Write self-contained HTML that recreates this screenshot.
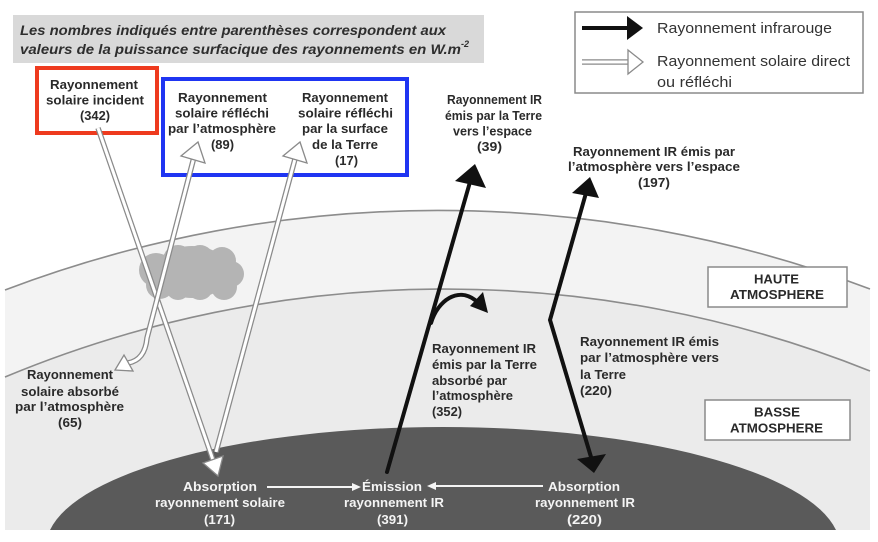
<!DOCTYPE html>
<html>
<head>
<meta charset="utf-8">
<style>
  html,body{margin:0;padding:0;background:#fff;width:878px;height:542px;overflow:hidden;}
  svg{display:block;position:absolute;left:0;top:0;}
  .lb{font-family:"Liberation Sans",Arial,sans-serif;font-weight:bold;font-size:13px;fill:#2a2a2a;}
  .wt{font-family:"Liberation Sans",Arial,sans-serif;font-weight:bold;font-size:13px;fill:#f4f4f4;}
  .bn{font-family:"Liberation Sans",Arial,sans-serif;font-weight:bold;font-style:italic;font-size:14px;fill:#2e2e2e;}
  .lg{font-family:"Liberation Sans",Arial,sans-serif;font-size:15px;fill:#333;}
</style>
</head>
<body>
<svg width="878" height="542" viewBox="0 0 878 542" xmlns="http://www.w3.org/2000/svg">
  <rect x="0" y="0" width="878" height="542" fill="#ffffff"/>

  <!-- atmosphere -->
  <path d="M5,290 A1222,1222 0 0 1 870,289 L870,530 L5,530 Z" fill="#f3f3f3"/>
  <path d="M5,377 A1144,1144 0 0 1 870,371 L870,530 L5,530 Z" fill="#ebebeb"/>
  <path d="M5,290 A1222,1222 0 0 1 870,289" fill="none" stroke="#8c8c8c" stroke-width="1.6"/>
  <path d="M5,377 A1144,1144 0 0 1 870,371" fill="none" stroke="#8c8c8c" stroke-width="1.6"/>

  <!-- earth -->
  <path d="M50,530 A397,120 0 0 1 836,530 Z" fill="#5a5a5a"/>

  <!-- cloud -->
  <g fill="#b4b4b4">
    <ellipse cx="192" cy="273" rx="46" ry="22"/>
    <ellipse cx="192" cy="272" rx="38" ry="26"/>
    <circle cx="156" cy="270" r="17"/>
    <circle cx="160" cy="285" r="14"/>
    <circle cx="178" cy="260" r="15"/>
    <circle cx="200" cy="259" r="14"/>
    <circle cx="222" cy="261" r="14"/>
    <circle cx="231" cy="274" r="13"/>
    <circle cx="224" cy="287" r="13"/>
    <circle cx="200" cy="287" r="13"/>
    <circle cx="178" cy="288" r="12"/>
  </g>

  <!-- banner -->
  <rect x="13" y="15" width="471" height="48" fill="#d9d9d9"/>
  <text class="bn" x="20" y="35" textLength="426" lengthAdjust="spacingAndGlyphs">Les nombres indiqués entre parenthèses correspondent aux</text>
  <text class="bn" x="20" y="54" textLength="441" lengthAdjust="spacingAndGlyphs">valeurs de la puissance surfacique des rayonnements en W.m</text>
  <text class="bn" x="461" y="47" style="font-size:9px">-2</text>

  <!-- legend -->
  <rect x="575" y="12" width="288" height="81" fill="#ffffff" stroke="#8a8a8a" stroke-width="1.5"/>
  <line x1="582" y1="28" x2="629" y2="28" stroke="#111" stroke-width="4"/>
  <polygon points="627,16 643,28 627,40" fill="#111"/>
  <line x1="582" y1="62" x2="629" y2="62" stroke="#8a8a8a" stroke-width="5.5"/>
  <line x1="582" y1="62" x2="629" y2="62" stroke="#ffffff" stroke-width="3"/>
  <polygon points="628,50 643,62 628,74" fill="#ffffff" stroke="#8a8a8a" stroke-width="1.3"/>
  <text class="lg" x="657" y="33" textLength="175" lengthAdjust="spacingAndGlyphs">Rayonnement infrarouge</text>
  <text class="lg" x="657" y="66" textLength="193" lengthAdjust="spacingAndGlyphs">Rayonnement solaire direct</text>
  <text class="lg" x="657" y="87" textLength="75" lengthAdjust="spacingAndGlyphs">ou réfléchi</text>

  <!-- red box -->
  <rect x="37" y="68" width="120" height="65" fill="#ffffff" stroke="#ee3a1e" stroke-width="4"/>
  <text class="lb" x="50" y="89" textLength="88" lengthAdjust="spacingAndGlyphs">Rayonnement</text>
  <text class="lb" x="46" y="104.5" textLength="98" lengthAdjust="spacingAndGlyphs">solaire incident</text>
  <text class="lb" x="80" y="120" textLength="30" lengthAdjust="spacingAndGlyphs">(342)</text>

  <!-- blue box -->
  <rect x="163" y="79" width="244" height="96" fill="#ffffff" stroke="#1f35f2" stroke-width="4"/>
  <text class="lb" x="178" y="102" textLength="89" lengthAdjust="spacingAndGlyphs">Rayonnement</text>
  <text class="lb" x="175" y="117.5" textLength="94" lengthAdjust="spacingAndGlyphs">solaire réfléchi</text>
  <text class="lb" x="168" y="133" textLength="108" lengthAdjust="spacingAndGlyphs">par l’atmosphère</text>
  <text class="lb" x="211" y="149" textLength="23" lengthAdjust="spacingAndGlyphs">(89)</text>
  <text class="lb" x="302" y="102" textLength="86" lengthAdjust="spacingAndGlyphs">Rayonnement</text>
  <text class="lb" x="298" y="117.5" textLength="95" lengthAdjust="spacingAndGlyphs">solaire réfléchi</text>
  <text class="lb" x="302" y="133" textLength="86" lengthAdjust="spacingAndGlyphs">par la surface</text>
  <text class="lb" x="312" y="149" textLength="66" lengthAdjust="spacingAndGlyphs">de la Terre</text>
  <text class="lb" x="335" y="165" textLength="23" lengthAdjust="spacingAndGlyphs">(17)</text>

  <!-- hollow solar arrows -->
  <g fill="none" stroke-linecap="butt" stroke-linejoin="round">
    <line x1="98" y1="128" x2="213" y2="460" stroke="#8a8a8a" stroke-width="5.5"/>
    <line x1="98" y1="128" x2="213" y2="460" stroke="#ffffff" stroke-width="3"/>
    <line x1="216" y1="452" x2="295" y2="159" stroke="#8a8a8a" stroke-width="5.5"/>
    <line x1="216" y1="452" x2="295" y2="159" stroke="#ffffff" stroke-width="3"/>
    <path d="M193.5,159 L147,338 Q145,360 128,363" stroke="#8a8a8a" stroke-width="5.5"/>
    <path d="M193.5,159 L147,338 Q145,360 128,363" stroke="#ffffff" stroke-width="3"/>
  </g>
  <polygon points="218,476 203,463 223,456" fill="#ffffff" stroke="#8a8a8a" stroke-width="1.3"/>
  <polygon points="300,142 307,163 283,156" fill="#ffffff" stroke="#8a8a8a" stroke-width="1.3"/>
  <polygon points="198,142 205,163 181,156" fill="#ffffff" stroke="#8a8a8a" stroke-width="1.3"/>
  <polygon points="115,370 124,355 133,371" fill="#ffffff" stroke="#8a8a8a" stroke-width="1.3"/>

  <!-- black IR arrows -->
  <g stroke="#111" stroke-width="4" fill="none" stroke-linecap="round" stroke-linejoin="miter">
    <line x1="387" y1="472" x2="470" y2="182"/>
    <path d="M431,323 C438,300 458,287 475,300"/>
    <polyline points="586,193 550,320 591,457"/>
  </g>
  <polygon points="475,164 455,181 486,188" fill="#111"/>
  <polygon points="488,313 470,306 483,292" fill="#111"/>
  <polygon points="590,177 572,193 599,198" fill="#111"/>
  <polygon points="594,473 577,459 606,454" fill="#111"/>

  <!-- white arrows in earth -->
  <line x1="267" y1="487" x2="354" y2="487" stroke="#f4f4f4" stroke-width="2"/>
  <polygon points="352,483 361,487 352,491" fill="#f4f4f4"/>
  <line x1="435" y1="486" x2="543" y2="486" stroke="#f4f4f4" stroke-width="2"/>
  <polygon points="436,482 427,486 436,490" fill="#f4f4f4"/>

  <!-- IR labels -->
  <text class="lb" x="447" y="104" textLength="95" lengthAdjust="spacingAndGlyphs">Rayonnement IR</text>
  <text class="lb" x="445" y="120" textLength="97" lengthAdjust="spacingAndGlyphs">émis par la Terre</text>
  <text class="lb" x="453" y="135.5" textLength="79" lengthAdjust="spacingAndGlyphs">vers l’espace</text>
  <text class="lb" x="477" y="151" textLength="25" lengthAdjust="spacingAndGlyphs">(39)</text>

  <text class="lb" x="573" y="156" textLength="162" lengthAdjust="spacingAndGlyphs">Rayonnement IR émis par</text>
  <text class="lb" x="568" y="171" textLength="172" lengthAdjust="spacingAndGlyphs">l’atmosphère vers l’espace</text>
  <text class="lb" x="638" y="187" textLength="32" lengthAdjust="spacingAndGlyphs">(197)</text>

  <text class="lb" x="580" y="346" textLength="139" lengthAdjust="spacingAndGlyphs">Rayonnement IR émis</text>
  <text class="lb" x="580" y="362" textLength="139" lengthAdjust="spacingAndGlyphs">par l’atmosphère vers</text>
  <text class="lb" x="580" y="379" textLength="46" lengthAdjust="spacingAndGlyphs">la Terre</text>
  <text class="lb" x="580" y="395" textLength="32" lengthAdjust="spacingAndGlyphs">(220)</text>

  <text class="lb" x="432" y="353" textLength="104" lengthAdjust="spacingAndGlyphs">Rayonnement IR</text>
  <text class="lb" x="432" y="369" textLength="105" lengthAdjust="spacingAndGlyphs">émis par la Terre</text>
  <text class="lb" x="432" y="385" textLength="75" lengthAdjust="spacingAndGlyphs">absorbé par</text>
  <text class="lb" x="432" y="400" textLength="81" lengthAdjust="spacingAndGlyphs">l’atmosphère</text>
  <text class="lb" x="432" y="416" textLength="30" lengthAdjust="spacingAndGlyphs">(352)</text>

  <text class="lb" x="27" y="379" textLength="86" lengthAdjust="spacingAndGlyphs">Rayonnement</text>
  <text class="lb" x="21" y="396" textLength="98" lengthAdjust="spacingAndGlyphs">solaire absorbé</text>
  <text class="lb" x="15" y="411" textLength="109" lengthAdjust="spacingAndGlyphs">par l’atmosphère</text>
  <text class="lb" x="58" y="427" textLength="24" lengthAdjust="spacingAndGlyphs">(65)</text>

  <!-- atmosphere boxes -->
  <rect x="708" y="267" width="139" height="40" fill="#ffffff" stroke="#8a8a8a" stroke-width="1.5"/>
  <text class="lb" x="754" y="283.5" textLength="45" lengthAdjust="spacingAndGlyphs">HAUTE</text>
  <text class="lb" x="730" y="299" textLength="94" lengthAdjust="spacingAndGlyphs">ATMOSPHERE</text>
  <rect x="705" y="400" width="145" height="40" fill="#ffffff" stroke="#8a8a8a" stroke-width="1.5"/>
  <text class="lb" x="754" y="416.5" textLength="46" lengthAdjust="spacingAndGlyphs">BASSE</text>
  <text class="lb" x="730" y="432.5" textLength="93" lengthAdjust="spacingAndGlyphs">ATMOSPHERE</text>

  <!-- earth labels -->
  <text class="wt" x="183" y="491" textLength="74" lengthAdjust="spacingAndGlyphs">Absorption</text>
  <text class="wt" x="155" y="507" textLength="130" lengthAdjust="spacingAndGlyphs">rayonnement solaire</text>
  <text class="wt" x="204" y="524" textLength="31" lengthAdjust="spacingAndGlyphs">(171)</text>

  <text class="wt" x="362" y="491" textLength="60" lengthAdjust="spacingAndGlyphs">Émission</text>
  <text class="wt" x="344" y="507" textLength="100" lengthAdjust="spacingAndGlyphs">rayonnement IR</text>
  <text class="wt" x="377" y="524" textLength="31" lengthAdjust="spacingAndGlyphs">(391)</text>

  <text class="wt" x="548" y="491" textLength="72" lengthAdjust="spacingAndGlyphs">Absorption</text>
  <text class="wt" x="535" y="507" textLength="100" lengthAdjust="spacingAndGlyphs">rayonnement IR</text>
  <text class="wt" x="567" y="524" textLength="35" lengthAdjust="spacingAndGlyphs">(220)</text>
</svg>
</body>
</html>
